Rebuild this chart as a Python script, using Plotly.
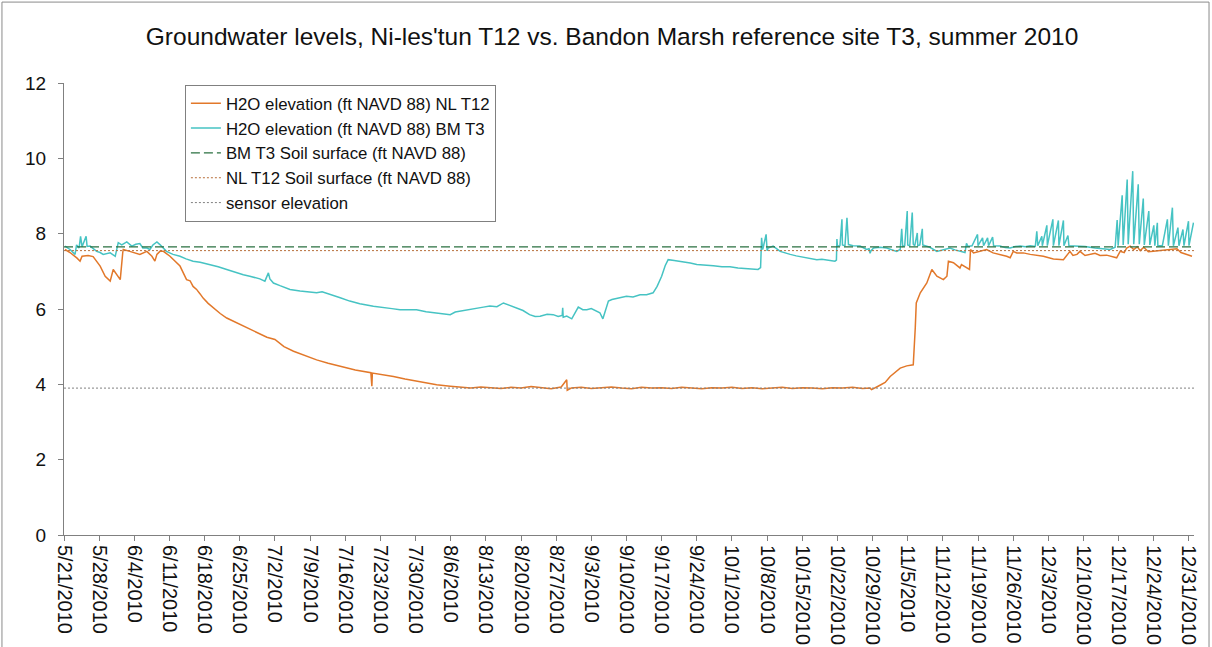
import pandas as pd
import plotly.graph_objects as go

# ---------------- data (days after 5/21/2010, ft NAVD 88) ----------------
start_date = "2010-05-21"

nl_day = [0.2, 1.2, 2.6, 3.2, 3.6, 4.8, 5.8, 6.6, 7.2, 8.2, 9.2, 9.8, 10.5, 11.2, 11.7, 11.8,
          13.1, 14.1, 15.1, 16.5, 17.5, 18.1, 18.5, 19.1, 19.8, 21.1, 22.1, 23.1, 24.4, 25.1,
          25.7, 26.4, 27.1, 27.7, 28.7, 29.7, 31.1, 32.4, 34.1, 35.7, 37.0, 39.0, 40.4, 42.0,
          43.8, 45.7, 48.0, 50.3, 52.6, 55.0, 58.0, 61.1, 61.3, 61.4, 65.6, 67.9, 70.2, 72.1,
          74.2, 76.9, 79, 81, 83, 85, 87, 89, 91, 93, 95, 97, 99, 100.1, 100.2, 101, 103, 105,
          107, 109, 111, 113, 115, 117, 119, 121, 123, 125, 127, 129, 131, 133, 135, 137, 139,
          141, 143, 145, 147, 149, 151, 153, 155, 157, 159, 160.5, 160.8, 162.1, 163.5, 164.5,
          166.5, 167.8, 169.1, 169.5, 169.7, 170.5, 171.8, 172.8, 173.8, 175.1, 175.8, 176.1,
          177.1, 178.4, 178.7, 180.3, 180.5, 181.1, 182.4, 183.7, 185.0, 186.4, 187.7, 188.4,
          189.0, 189.7, 191.0, 192.4, 195.0, 197.0, 198.3, 199.0, 200.3, 200.9, 201.7, 202.3,
          203.3, 204.3, 205.3, 206.3, 207.6, 209.6, 210.3, 211.1, 211.6, 212.3, 213.0, 213.7,
          214.3, 215.0, 215.9, 216.9, 218.3, 219.4, 221.6, 222.4, 223.6, 224.6]
nl_h2o = [7.58, 7.50, 7.35, 7.27, 7.40, 7.42, 7.39, 7.25, 7.14, 6.87, 6.74, 7.05, 6.91, 6.78, 7.50, 7.58,
          7.53, 7.48, 7.45, 7.53, 7.40, 7.27, 7.45, 7.53, 7.53, 7.40, 7.28, 7.14, 6.78, 6.75,
          6.60, 6.52, 6.40, 6.29, 6.15, 6.03, 5.88, 5.76, 5.65, 5.54, 5.45, 5.32, 5.25, 5.19,
          5.00, 4.88, 4.76, 4.65, 4.56, 4.48, 4.38, 4.31, 3.95, 4.30, 4.21, 4.14, 4.08, 4.03,
          3.99, 3.95, 3.92, 3.90, 3.93, 3.91, 3.89, 3.92, 3.90, 3.94, 3.91, 3.88, 3.93, 4.12, 3.84, 3.90, 3.92, 3.89,
          3.91, 3.93, 3.90, 3.88, 3.92, 3.90, 3.91, 3.89, 3.92, 3.90, 3.88, 3.91, 3.90, 3.92, 3.89, 3.91, 3.88,
          3.90, 3.92, 3.89, 3.91, 3.90, 3.88, 3.91, 3.90, 3.92, 3.89, 3.90, 3.86, 3.95, 4.05, 4.21,
          4.43, 4.49, 4.52, 5.50, 6.16, 6.43, 6.69, 7.05, 6.87, 6.78, 6.87, 7.27,
          7.23, 7.09, 7.18, 7.05, 7.58, 7.49, 7.53, 7.58, 7.49, 7.45, 7.40, 7.36,
          7.53, 7.49, 7.49, 7.45, 7.40, 7.33, 7.31, 7.31, 7.53, 7.42, 7.45, 7.53,
          7.42, 7.45, 7.48, 7.42, 7.43, 7.36, 7.53, 7.50, 7.62, 7.67, 7.58, 7.65,
          7.55, 7.64, 7.52, 7.53, 7.55, 7.58, 7.60, 7.50, 7.45, 7.40]

bm_day = [0.2, 1.2, 2.2, 2.5, 3.0, 3.3, 3.6, 4.4, 4.6, 5.2, 6.5, 7.2, 7.8, 9.2, 10.2, 10.8, 11.5,
          12.5, 13.5, 14.3, 15.1, 15.7, 16.5, 17.1, 17.7, 18.5, 19.1, 19.7, 20.4, 21.7, 23.1,
          24.3, 25.7, 27.1, 29.1, 30.7, 32.4, 34.0, 35.7, 37.0, 39.0, 40.0, 40.7, 41.0, 41.7,
          43.0, 45.0, 47.0, 49.0, 50.3, 51.4, 53.0, 55.0, 56.9, 58.9, 61.6, 63.9, 65.3, 66.9,
          68.9, 70.2, 72.1, 74.2, 75.7, 76.9, 77.9, 78.9, 80.8, 82.0, 83.5, 84.8, 86.2, 87.5,
          88.8, 90.1, 91.4, 92.7, 93.8, 94.8, 96.2, 97.4, 98.4, 99.2, 99.3, 99.4, 100.1, 101.1,
          102.4, 103.3, 104.1, 105.0, 106.1, 106.7, 107.3, 108.4, 109.1, 110.3, 111.1, 112.0,
          113.3, 114.7, 116.0, 117.3, 118.1, 119.0, 119.7, 120.3, 121.5, 122.7, 124.7, 126.0,
          127.6, 129.3, 131.0, 132.6, 134.2, 135.9, 137.0, 138.2, 138.7, 138.9, 139.1, 139.2,
          139.8, 140.0, 140.2, 141.2, 142.6, 143.6, 144.6, 145.8, 147.2, 148.5, 149.9, 150.9,
          152.5, 153.5, 153.8, 153.9, 154.0, 154.5, 154.9, 155.0, 155.5, 155.9, 156.2, 157.1,
          158.5, 159.8, 160.3, 160.5, 160.7, 161.2, 162.5, 163.8, 164.9, 165.8, 166.5, 166.8,
          167.0, 167.4, 167.9, 168.0, 168.4, 168.9, 169.1, 169.4, 169.9, 170.0, 170.4, 170.9,
          171.0, 171.8, 172.4, 173.8, 175.1, 176.4, 177.4, 178.4, 179.4, 179.7, 180.0, 180.8,
          181.9, 182.0, 182.9, 183.1, 183.9, 184.1, 184.9, 185.1, 186.4, 187.4, 188.4, 189.4,
          190.4, 191.4, 192.4, 193.4, 193.7, 193.9, 194.7, 194.8, 195.7, 195.8, 196.9, 197.0,
          198.0, 198.1, 199.0, 199.1, 199.9, 200.1, 201.3, 203.3, 205.3, 207.3, 208.3, 209.3,
          209.7, 209.9, 210.7, 210.9, 211.7, 211.9, 212.8, 213.0, 213.9, 214.1, 214.9, 215.1,
          216.0, 216.2, 217.0, 217.2, 217.7, 217.8, 218.7, 219.7, 219.9, 220.7, 220.9, 221.8,
          222.0, 222.8, 223.0, 223.9, 224.0, 224.9]
bm_h2o = [7.67, 7.58, 7.45, 7.70, 7.62, 7.93, 7.65, 7.93, 7.66, 7.67, 7.53, 7.50, 7.45, 7.49, 7.40, 7.76, 7.70,
          7.78, 7.67, 7.72, 7.74, 7.62, 7.62, 7.58, 7.70, 7.78, 7.71, 7.62, 7.53, 7.45, 7.40,
          7.33, 7.27, 7.24, 7.18, 7.12, 7.05, 6.98, 6.91, 6.87, 6.80, 6.74, 6.96, 6.80, 6.69,
          6.62, 6.52, 6.48, 6.45, 6.43, 6.46, 6.38, 6.30, 6.21, 6.14, 6.07, 6.04, 6.01, 5.98,
          5.98, 5.98, 5.93, 5.90, 5.86, 5.85, 5.92, 5.94, 5.98, 6.02, 6.05, 6.08, 6.06, 6.16,
          6.10, 6.03, 5.96, 5.85, 5.80, 5.81, 5.86, 5.85, 5.80, 5.83, 6.03, 5.78, 5.81, 5.74,
          6.05, 5.98, 5.98, 6.01, 5.94, 5.90, 5.74, 6.21, 6.25, 6.29, 6.33, 6.34,
          6.32, 6.38, 6.38, 6.43, 6.60, 6.87, 7.15, 7.31, 7.29, 7.27, 7.22, 7.18,
          7.17, 7.15, 7.12, 7.12, 7.09, 7.07, 7.06, 7.05, 7.10, 7.89, 7.58, 7.62,
          7.98, 7.55, 7.62, 7.67, 7.53, 7.48, 7.45, 7.41, 7.38, 7.35, 7.31, 7.32,
          7.29, 7.27, 7.30, 7.86, 7.67, 7.68, 8.38, 7.70, 7.68, 8.42, 7.71, 7.68,
          7.67, 7.58, 7.60, 7.48, 7.55, 7.62, 7.64, 7.62, 7.58, 7.53, 7.58, 8.13,
          7.66, 7.68, 8.60, 7.70, 7.68, 8.56, 7.72, 7.68, 8.02, 7.68, 7.70, 8.13,
          7.70, 7.67, 7.64, 7.53, 7.58, 7.62, 7.57, 7.53, 7.50, 7.74, 7.66, 7.68,
          7.98, 7.68, 7.89, 7.68, 7.89, 7.68, 7.91, 7.68, 7.67, 7.63, 7.62, 7.66,
          7.67, 7.65, 7.68, 7.66, 8.06, 7.68, 7.93, 7.68, 8.22, 7.68, 8.38, 7.68,
          8.35, 7.68, 8.35, 7.68, 7.95, 7.68, 7.67, 7.66, 7.62, 7.60, 7.58, 7.64,
          8.36, 7.68, 9.02, 7.70, 9.44, 7.72, 9.66, 7.72, 9.31, 7.72, 8.93, 7.70,
          8.60, 7.70, 8.22, 7.68, 8.29, 7.68, 7.68, 8.38, 7.68, 8.69, 7.68, 8.16,
          7.68, 8.11, 7.68, 8.33, 7.68, 8.29]

ref_day = [0, 225]
bm_soil = [7.65, 7.65]
nl_soil = [7.55, 7.55]
sensor = [3.90, 3.90]

title = "Groundwater levels, Ni-les'tun T12 vs. Bandon Marsh reference site T3, summer 2010"
names = ["H2O elevation (ft NAVD 88) NL T12",
         "H2O elevation (ft NAVD 88) BM T3",
         "BM T3 Soil surface (ft NAVD 88)",
         "NL T12 Soil surface (ft NAVD 88)",
         "sensor elevation"]

# ---------------- build ----------------
base = pd.Timestamp(start_date)
def to_dates(days):
    return [base + pd.Timedelta(days=d) for d in days]

FONT = "Liberation Sans, Arial, sans-serif"
fig = go.Figure()
fig.add_trace(go.Scatter(x=to_dates(nl_day), y=nl_h2o, mode="lines", name=names[0],
                         line=dict(color="#E2782A", width=1.5)))
fig.add_trace(go.Scatter(x=to_dates(bm_day), y=bm_h2o, mode="lines", name=names[1],
                         line=dict(color="#46C3C3", width=1.5)))
fig.add_trace(go.Scatter(x=to_dates(ref_day), y=bm_soil, mode="lines", name=names[2],
                         line=dict(color="#2A7040", width=1.3, dash="9px,4px")))
fig.add_trace(go.Scatter(x=to_dates(ref_day), y=nl_soil, mode="lines", name=names[3],
                         line=dict(color="#B86F3A", width=1, dash="2px,2px")))
fig.add_trace(go.Scatter(x=to_dates(ref_day), y=sensor, mode="lines", name=names[4],
                         line=dict(color="#808080", width=1, dash="2px,2px")))

fig.update_layout(
    width=1212, height=647,
    margin=dict(l=64, r=18, t=83, b=112, autoexpand=False),
    paper_bgcolor="white", plot_bgcolor="white",
    font=dict(family=FONT, color="#111"),
    title=dict(text=title, x=0.505, xanchor="center", y=0.943, yanchor="middle",
               font=dict(size=24.5, family=FONT, color="#111")),
    showlegend=True,
    legend=dict(x=0.107, y=0.996, xanchor="left", yanchor="top",
                bordercolor="#808080", borderwidth=1, bgcolor="white",
                font=dict(size=16.8, family=FONT, color="#111"),
                tracegroupgap=0),
    xaxis=dict(type="date", range=[base, base + pd.Timedelta(days=225)],
               tick0=start_date, dtick=7 * 86400000, tickformat="%-m/%-d/%Y",
               tickangle=90, ticks="outside", ticklen=5, tickcolor="#808080",
               showline=True, linecolor="#808080", linewidth=1, showgrid=False,
               zeroline=False, automargin=False,
               tickfont=dict(size=20, family=FONT, color="#111")),
    yaxis=dict(range=[0, 12], dtick=2, ticks="outside", ticklen=5, tickcolor="#808080",
               showline=True, linecolor="#808080", linewidth=1, showgrid=False,
               zeroline=False, ticklabelstandoff=8, automargin=False,
               tickfont=dict(size=19, family=FONT, color="#111")),
    shapes=[dict(type="rect", xref="paper", yref="paper",
                 x0=-0.0549, x1=1.0133, y0=-0.35, y1=1.179,
                 line=dict(color="#8a8a8a", width=1), fillcolor="rgba(0,0,0,0)",
                 layer="below")],
)

fig.write_html("out.html", config={"displayModeBar": False},
               post_script="document.body.style.margin='0';")
